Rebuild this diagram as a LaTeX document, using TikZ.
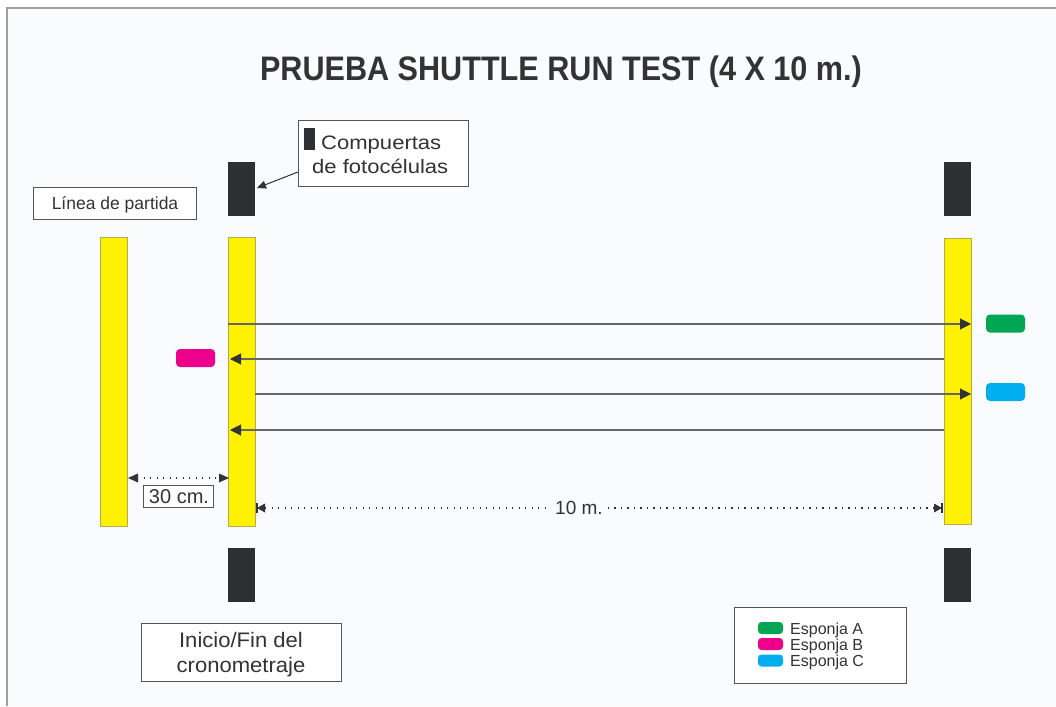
\documentclass[tikz,border=0pt]{standalone}
\usepackage{fontspec}
\setmainfont{Liberation Sans}
\usetikzlibrary{arrows.meta}
\definecolor{bgc}{HTML}{FAFBFD}
\definecolor{framec}{HTML}{A0A0A0}
\definecolor{txt}{HTML}{333333}
\definecolor{gatec}{HTML}{2E2F33}
\definecolor{barc}{HTML}{FFF200}
\definecolor{baredge}{HTML}{B8A850}
\definecolor{spA}{HTML}{00A651}
\definecolor{spB}{HTML}{EC008C}
\definecolor{spC}{HTML}{00AEEF}
\definecolor{linec}{HTML}{555555}
\definecolor{runc}{HTML}{666666}
\tikzset{
  bar/.style={fill=barc,draw=baredge,line width=0.6pt},
  gate/.style={fill=gatec,draw=none,minimum width=27pt,minimum height=54pt,inner sep=0pt},
  labelbox/.style={draw=linec,line width=0.9pt,fill=white,text=txt,inner sep=0pt},
  runarrow/.style={draw=runc,line width=1.1pt,-{Triangle[length=11pt,width=11pt,color=txt]}},
  dim/.style={draw=txt,line width=1.4pt,dash pattern=on 1.3pt off 5.2pt},
  pill/.style={rounded corners=4pt,draw=none,inner sep=0pt},
  lgtext/.style={anchor=base west,text=txt,inner sep=0pt,font=\fontsize{16}{17}\selectfont},
}
\begin{document}
\begin{tikzpicture}[x=1pt,y=-1pt]
\useasboundingbox (0,0) rectangle (1056,706);
\fill[white] (0,0) rectangle (1056,706);
\fill[bgc] (7,8.5) rectangle (1056,706);
\draw[framec,line width=2pt] (7,706) -- (7,8.5) -- (1056,8.5);
% title
\node[anchor=base,text=txt,inner sep=0pt,font=\bfseries\fontsize{34}{40}\selectfont,xscale=0.9] (title) at (561,81) {PRUEBA SHUTTLE RUN TEST (4 X 10 m.)};
% bars
\path[bar] (100,237) rectangle (127,526);
\path[bar] (228,237) rectangle (255,526);
\path[bar] (944,238) rectangle (971,524);
% gates
\node[gate] (g1) at (241.5,189) {};
\node[gate] (g2) at (241.5,575) {};
\node[gate] (g3) at (957.5,189) {};
\node[gate] (g4) at (957.5,575) {};
% labels
\node[labelbox,minimum width=163pt,minimum height=32pt] (lp) at (114.5,203) {};
\node[text=txt,inner sep=0pt,anchor=base,font=\fontsize{17.5}{20}\selectfont] (lpt) at (115,209.5) {Línea de partida};
\node[labelbox,minimum width=170pt,minimum height=66pt] (cf) at (383,153) {};
\node[fill=gatec,inner sep=0pt,minimum width=11pt,minimum height=22pt] (cfr) at (309,139) {};
\node[anchor=base west,text=txt,inner sep=0pt,font=\fontsize{19.5}{22}\selectfont,xscale=1.13] (cft1) at (321,149) {Compuertas};
\node[anchor=base west,text=txt,inner sep=0pt,font=\fontsize{19.5}{22}\selectfont,xscale=1.13] (cft2) at (312,173) {de fotocélulas};
\coordinate (cfa) at (298,172);
\coordinate (g1e) at (257,188);
\draw[draw=txt,line width=1pt,-{Triangle[length=9pt,width=8pt]}] (cfa) -- (g1e);
\node[labelbox,minimum width=200pt,minimum height=58pt] (ifc) at (241,652) {};
\node[anchor=base,text=txt,inner sep=0pt,font=\fontsize{21}{24}\selectfont,xscale=1.05] (ift1) at (241,647) {Inicio/Fin del};
\node[anchor=base,text=txt,inner sep=0pt,font=\fontsize{21}{24}\selectfont,xscale=1.05] (ift2) at (241,672) {cronometraje};
% run arrows
\coordinate (a1s) at (228,324); \coordinate (a1e) at (971,324);
\coordinate (a2s) at (944,359); \coordinate (a2e) at (230,359);
\coordinate (a3s) at (255,394); \coordinate (a3e) at (971,394);
\coordinate (a4s) at (944,430); \coordinate (a4e) at (230,430);
\draw[runarrow] (a1s) -- (a1e);
\draw[runarrow] (a2s) -- (a2e);
\draw[runarrow] (a3s) -- (a3e);
\draw[runarrow] (a4s) -- (a4e);
% sponges
\node[pill,fill=spB,minimum width=39pt,minimum height=18pt] (sB) at (195.5,358) {};
\node[pill,fill=spA,minimum width=39pt,minimum height=18pt] (sA) at (1005.5,323.5) {};
\node[pill,fill=spC,minimum width=39pt,minimum height=18pt] (sC) at (1005.5,392) {};
% 30 cm
\coordinate (d1a) at (137,478); \coordinate (d1b) at (220,478);
\draw[dim] (d1a) -- (d1b);
\fill[txt] (128,478) -- (138,473.5) -- (138,482.5) -- cycle;
\fill[txt] (229,478) -- (219,473.5) -- (219,482.5) -- cycle;
\node[labelbox,minimum width=70pt,minimum height=22pt] (l30) at (178,496) {};
\node[anchor=base,text=txt,inner sep=0pt,font=\fontsize{20}{22}\selectfont] (l30t) at (179,503) {30 cm.};
% 10 m
\coordinate (d2a) at (265,508); \coordinate (d2b) at (934,508);
\node[anchor=base,text=txt,fill=bgc,inner xsep=5pt,inner ysep=0pt,font=\fontsize{19}{21}\selectfont] (l10) at (579,514) {10 m.};
\draw[dim] (d2a) -- (d2a -| l10.west);
\draw[dim] (d2b -| l10.east) -- (d2b);
\fill[txt] (257,508) -- (265,503.5) -- (265,512.5) -- cycle;
\draw[txt,line width=1.3pt] (257,503) -- (257,513);
\fill[txt] (942,508) -- (934,503.5) -- (934,512.5) -- cycle;
\draw[txt,line width=1.3pt] (942,503) -- (942,513);
% legend
\node[draw=linec,line width=0.9pt,fill=white,minimum width=172pt,minimum height=76pt,inner sep=0pt] (leg) at (820,645) {};
\node[pill,fill=spA,rounded corners=3.5pt,minimum width=25pt,minimum height=12pt] (lA) at (770.5,628) {};
\node[pill,fill=spB,rounded corners=3.5pt,minimum width=25pt,minimum height=12pt] (lB) at (770.5,644) {};
\node[pill,fill=spC,rounded corners=3.5pt,minimum width=25pt,minimum height=12pt] (lC) at (770.5,660.5) {};
\node[lgtext] (tA) at (790,634) {Esponja A};
\node[lgtext] (tB) at (790,650) {Esponja B};
\node[lgtext] (tC) at (790,666.5) {Esponja C};
\end{tikzpicture}
\end{document}
